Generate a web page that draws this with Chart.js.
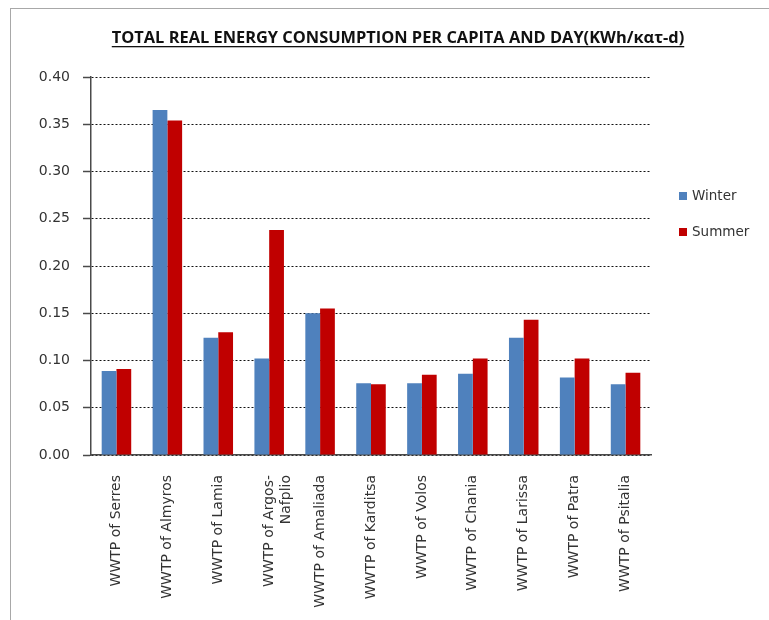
<!DOCTYPE html>
<html>
<head>
<meta charset="utf-8">
<script src="https://cdn.jsdelivr.net/npm/chart.js@4/dist/chart.umd.min.js"></script>
<style>
html, body { margin: 0; background: #fff; overflow: hidden; }
#frame { position: absolute; left: 10px; top: 8px; width: 900px; height: 800px; border: 1px solid #a8a8a8; }
#wrap { position: absolute; left: 0; top: 0; width: 769px; height: 620px; }
</style>
</head>
<body>
<div id="frame"></div>
<div id="wrap"><canvas id="energy"></canvas></div>
<script>
// chart data
const plants = ["WWTP of Serres", "WWTP of Almyros", "WWTP of Lamia", ["WWTP of Argos-", "Nafplio"],
  "WWTP of Amaliada", "WWTP of Karditsa", "WWTP of Volos", "WWTP of Chania", "WWTP of Larissa",
  "WWTP of Patra", "WWTP of Psitalia"];
const winter = [0.089, 0.365, 0.124, 0.102, 0.150, 0.076, 0.076, 0.086, 0.124, 0.082, 0.075];
const summer = [0.091, 0.354, 0.130, 0.238, 0.155, 0.075, 0.085, 0.102, 0.143, 0.102, 0.087];
const yTicks = [0, 0.05, 0.10, 0.15, 0.20, 0.25, 0.30, 0.35, 0.40];
const titleText = "TOTAL REAL ENERGY CONSUMPTION PER CAPITA AND DAY(KWh/κατ-d)";

const ctx = document.getElementById("energy").getContext("2d");

// draws the underlined title and the legend on the right
const extras = {
  id: "extras",
  afterDraw(chart) {
    const c = chart.ctx;
    c.save();
    c.font = "bold 16.4px 'Open Sans'";
    c.fillStyle = "#111";
    c.textAlign = "center";
    c.textBaseline = "alphabetic";
    const tx = 398, ty = 43;
    c.fillText(titleText, tx, ty);
    const w = c.measureText(titleText).width;
    c.fillRect(tx - w / 2, ty + 3, w, 1.3);

    // legend
    c.font = "13.5px 'DejaVu Sans'";
    c.textAlign = "left";
    c.textBaseline = "middle";
    chart.data.datasets.forEach((ds, i) => {
      const y = 196 + i * 36;
      c.fillStyle = ds.backgroundColor;
      c.fillRect(679, y - 4, 8, 8);
      c.fillStyle = "#333";
      c.fillText(ds.label, 692, y);
    });
    c.restore();
  }
};

const chart = new Chart(ctx, {
  type: "bar",
  data: {
    labels: plants,
    datasets: [
      { label: "Winter", data: winter, backgroundColor: "#4F81BD" },
      { label: "Summer", data: summer, backgroundColor: "#C00000" }
    ]
  },
  options: {
    responsive: true,
    maintainAspectRatio: false,
    animation: false,
    categoryPercentage: 0.58,
    barPercentage: 1,
    layout: { padding: { left: 39, right: 118, top: 77, bottom: 0 } },
    plugins: {
      legend: { display: false },
      title: { display: false },
      tooltip: { enabled: false }
    },
    scales: {
      x: {
        afterFit: function (axis) { axis.height = 165; },
        grid: { display: false, drawTicks: false },
        border: { display: true, color: "#4a4a4a", width: 1.5 },
        ticks: {
          autoSkip: false, minRotation: 90, maxRotation: 90, padding: 20,
          color: "#333", font: { family: "'DejaVu Sans'", size: 14 }
        }
      },
      y: {
        min: 0, max: 0.4,
        afterFit: function (axis) { axis.width = 52; },
        afterBuildTicks: function (axis) {
          axis.ticks = yTicks.map(v => ({ value: v }));
        },
        grid: { color: "#111", lineWidth: 1, tickColor: "#4a4a4a", tickLength: 8, tickWidth: 1.5 },
        border: { display: true, color: "#4a4a4a", width: 1.5, dash: [2, 2] },
        ticks: {
          padding: 13, color: "#333", font: { family: "'DejaVu Sans'", size: 14 },
          callback: function (value) { return value.toFixed(2); }
        }
      }
    }
  },
  plugins: [extras]
});
</script>
</body>
</html>
